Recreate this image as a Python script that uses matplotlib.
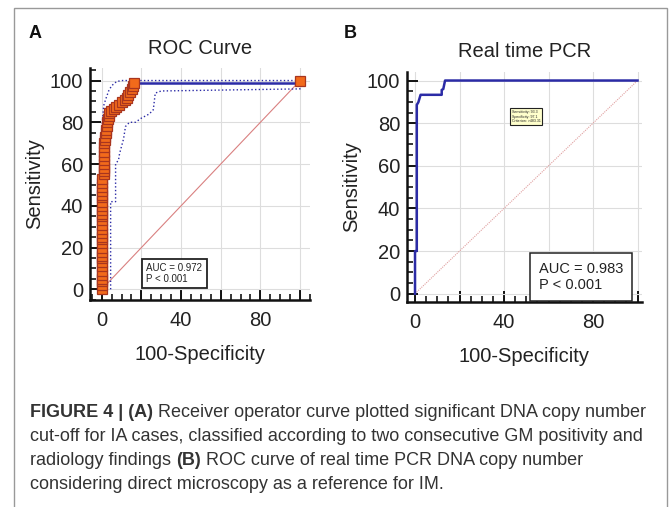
import matplotlib
matplotlib.use("Agg")
import matplotlib.pyplot as plt
from matplotlib.patches import Rectangle
from matplotlib.ticker import MultipleLocator

plt.rcParams["font.family"] = ["Liberation Sans", "DejaVu Sans"]

# ── Panel A: ROC curve points (100-Specificity, Sensitivity) ─────────────
fpr_a = [0, 0, 0, 0, 0, 0, 0, 0, 0, 0, 0, 0, 0, 0, 0, 0, 0, 0, 0, 0, 0, 0, 0, 0, 0, 0, 0, 0, 0, 0,
         1, 1, 1, 1, 1, 1, 1, 1, 1, 1.5, 1.5, 2, 2, 2.5, 2.5, 3, 3.5, 3.5, 4.5, 6, 7, 8.5, 10,
         11.5, 12.5, 13.5, 14.5, 15.5, 16, 16.5, 100]
tpr_a = [0, 2, 4, 5, 7, 9, 11, 13, 15, 16, 18, 20, 22, 24, 25, 27, 29, 31, 33, 35, 36, 38, 40,
         42, 44, 45, 47, 49, 51, 53,
         55, 56.5, 58, 60, 62, 64, 66, 68, 70, 71.5, 73, 75, 76.5, 78, 80, 81.5, 83, 84.5, 85.5,
         86.5, 87.5, 88.5, 89.5, 90.5, 91.5, 93, 94.5, 96, 97.5, 99, 100]

# 95% confidence bounds (dotted)
upper_x = [0, 0, 0.5, 1, 2, 3.5, 5, 7.5, 10, 100]
upper_y = [0, 75, 82, 88, 91, 95, 97.5, 99.5, 100, 100]
lower_x = [4.5, 4.5, 7, 7, 8.5, 9, 11, 12, 14, 17, 20, 24, 26, 26.5, 27, 30, 100, 100]
lower_y = [0, 42, 42, 60, 62, 65, 72, 78, 80, 80, 82, 84, 86, 90, 94, 95, 96, 100]

# ── Panel B: real time PCR ROC step curve ─────────────────────────────────
fpr_b = [0, 0, 0.8, 0.8, 1.5, 2.5, 12, 12, 12.7, 13.5, 100]
tpr_b = [0, 20, 20, 88.6, 89.8, 93.3, 93.3, 95.6, 96, 100, 100]

diag = [0, 100]
auc_a, auc_b = 0.972, 0.983

BLUE = "#2b2ba6"
TXT = "#222222"
FS = 14.5

W, H = 669, 507
fig = plt.figure(figsize=(W / 100, H / 100), dpi=100)


def px_axes(x0, y0, x1, y1):
    # pixel box (top-left origin) -> figure fraction axes
    return fig.add_axes([x0 / W, 1 - y1 / H, (x1 - x0) / W, (y1 - y0) / H])


def style_axes(ax, xlim, ylim):
    ax.set_xlim(*xlim)
    ax.set_ylim(*ylim)
    for s in ["top", "right"]:
        ax.spines[s].set_visible(False)
    for s in ["left", "bottom"]:
        ax.spines[s].set_linewidth(1.8)
        ax.spines[s].set_color("#111111")
    ax.yaxis.set_major_locator(MultipleLocator(20))
    ax.xaxis.set_minor_locator(MultipleLocator(5))
    ax.yaxis.set_minor_locator(MultipleLocator(5))
    ax.set_xticks([0, 20, 40, 60, 80, 100])
    ax.set_xticklabels(["0", "", "40", "", "80", ""])
    ax.tick_params(which="major", direction="in", length=8, width=1.3, labelsize=FS,
                   labelcolor=TXT, pad=5)
    ax.tick_params(axis="x", which="major", pad=8)
    ax.tick_params(which="minor", direction="in", length=4.5, width=1.1)
    ax.grid(True, which="major", color="#dddddd", linewidth=0.8)
    ax.set_axisbelow(True)
    ax.set_xlabel("100-Specificity", fontsize=FS, color=TXT, labelpad=11)
    ax.set_ylabel("Sensitivity", fontsize=FS, color=TXT, labelpad=4)


# ── A ─────────────────────────────────────────────────────────────────────
ax = px_axes(90, 68, 310, 300)
style_axes(ax, (-5.9, 105), (-5.1, 106))
ax.plot(diag, diag, color="#d98080", linewidth=0.8)
ax.plot(upper_x, upper_y, color=BLUE, linestyle=":", linewidth=1.0)
ax.plot(lower_x, lower_y, color=BLUE, linestyle=":", linewidth=1.0)
ax.plot(fpr_a, tpr_a, color=BLUE, linewidth=1.8, drawstyle="steps-post", zorder=3)
ax.plot(fpr_a, tpr_a, linestyle="none", marker="s", markersize=6.5,
        markerfacecolor="#f26a1b", markeredgecolor="#a8351f", markeredgewidth=0.9, zorder=4)
ax.set_title("ROC Curve", fontsize=FS, color=TXT, pad=10)
ax.text(22.5, 7.5, f"AUC = {auc_a}\nP < 0.001", fontsize=7, color=TXT, va="center",
        linespacing=1.1,
        bbox=dict(boxstyle="square,pad=0.45", facecolor="white", edgecolor="#222222", linewidth=1.3))

# ── B ─────────────────────────────────────────────────────────────────────
bx = px_axes(407, 72, 642, 302)
style_axes(bx, (-3.6, 102), (-3.9, 104))
bx.plot(diag, diag, color="#e0a0a0", linewidth=0.8, linestyle=(0, (1, 1)))
bx.plot(fpr_b, tpr_b, color=BLUE, linewidth=1.8)
bx.set_title("Real time PCR", fontsize=FS, color=TXT, pad=11)
bx.text(55.5, 7.8, f"AUC = {auc_b}\nP < 0.001", fontsize=10.5, color=TXT, va="center",
        linespacing=1.15,
        bbox=dict(boxstyle="square,pad=0.6", facecolor="white", edgecolor="#222222", linewidth=1.1))
bx.text(43.5, 83, "Sensitivity: 93.3\nSpecificity: 97.1\nCriterion: >483.31", fontsize=2.6,
        color=TXT, va="center", linespacing=1.2,
        bbox=dict(boxstyle="square,pad=0.5", facecolor="#ffffcc", edgecolor="#222222", linewidth=0.8))

# panel letters
fig.text(29 / W, 1 - 38 / H, "A", fontsize=13, fontweight="bold", color="#111111")
fig.text(344 / W, 1 - 38 / H, "B", fontsize=13, fontweight="bold", color="#111111")

# ── caption with mixed bold/regular segments ─────────────────────────────
caption = [
    [("FIGURE 4 | (A)", "bold"), (" Receiver operator curve plotted significant DNA copy number", "normal")],
    [("cut-off for IA cases, classified according to two consecutive GM positivity and", "normal")],
    [("radiology findings ", "normal"), ("(B)", "bold"), (" ROC curve of real time PCR DNA copy number", "normal")],
    [("considering direct microscopy as a reference for IM.", "normal")],
]
baselines = [417, 441, 465, 489]
renderer = fig.canvas.get_renderer()
for line, yb in zip(caption, baselines):
    x = 30
    for txt, weight in line:
        t = fig.text(x / W, 1 - yb / H, txt, fontsize=13, fontweight=weight, color="#333333",
                     va="baseline")
        x += t.get_window_extent(renderer).width

# outer frame
fig.patches.append(Rectangle((14 / W, -0.05), (667 - 14) / W, 1.05 - 8 / H, transform=fig.transFigure,
                             fill=False, edgecolor="#999999", linewidth=1.0))

fig.savefig("out.png", dpi=100)
